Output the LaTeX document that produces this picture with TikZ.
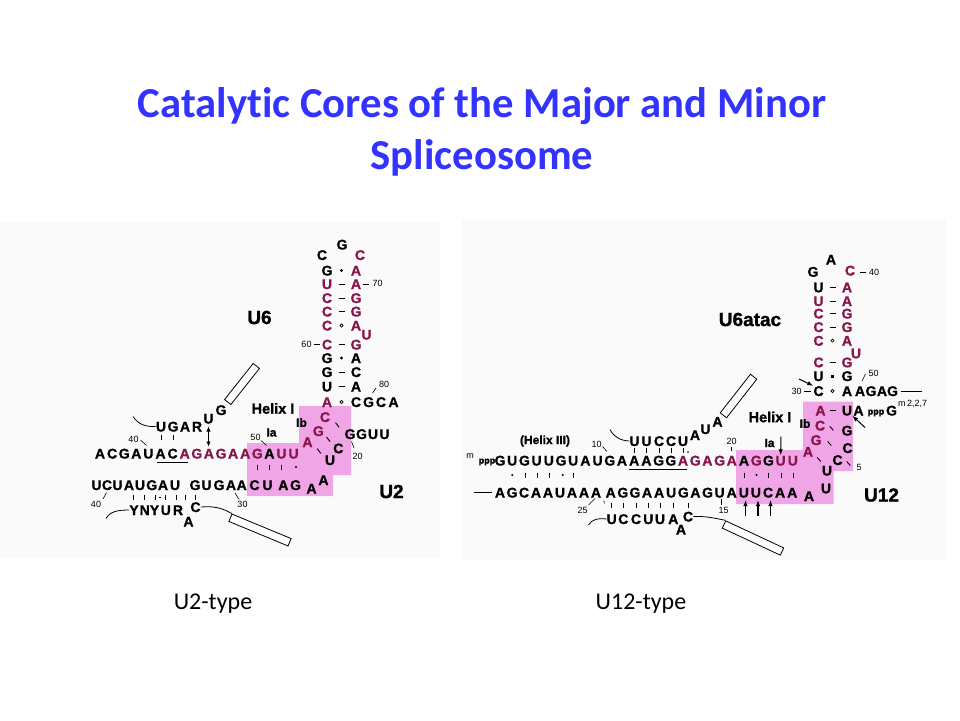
\documentclass[tikz,border=0pt]{standalone}
\usepackage{fontspec}
\setmainfont{Liberation Sans}[BoldFont={Liberation Sans Bold},BoldFeatures={FakeBold=1.2}]
\newfontfamily\calfont{Carlito}[Ligatures=NoCommon]
\usetikzlibrary{arrows.meta}
\definecolor{titleblue}{RGB}{51,51,255}
\definecolor{rnared}{RGB}{135,20,75}
\definecolor{boxpink}{RGB}{240,165,230}

\begin{document}
\begin{tikzpicture}[x=1pt, y=-1pt,
  nt/.style={font=\bfseries\fontsize{14}{14}\selectfont, inner sep=0pt, text height=10pt, text depth=0pt},
  blk/.style={text=black}, mar/.style={text=rnared},
  num/.style={font=\fontsize{9}{9}\selectfont, inner sep=0pt},
  lab/.style={font=\bfseries\fontsize{14.5}{14.5}\selectfont, inner sep=0pt},
  sub/.style={font=\bfseries\fontsize{12}{12}\selectfont, inner sep=0pt},
  rna/.style={font=\bfseries\fontsize{19}{19}\selectfont, inner sep=0pt},
  ttl/.style={font=\calfont\bfseries\fontsize{42.7}{50}\selectfont, text=titleblue, inner sep=0pt},
  captxt/.style={font=\calfont\fontsize{24}{24}\selectfont, inner sep=0pt},
  bar/.style={draw, line width=0.8pt, fill=white, minimum height=8pt, inner sep=0pt},
  pr/.style={line width=0.9pt},
  tick/.style={line width=0.6pt},
  arr/.style={-{Latex[length=6pt,width=4.5pt]}, line width=1pt}]

\useasboundingbox (0,0) rectangle (960,720);
\fill[white] (0,0) rectangle (960,720);
\fill[black!2] (0,222) rectangle (440,558);
\fill[black!2] (462,220) rectangle (946,560);

\node[ttl, anchor=base] (title1) at (482,117) {Catalytic Cores of the Major and Minor};
\node[ttl, anchor=base] (title2) at (482,169) {Spliceosome};

% U2-type
\fill[boxpink] (247,443) -- (299,443) -- (299,406) -- (351,406) -- (351,475) -- (333,475) -- (333,496) -- (247,496) -- cycle;
\node[nt,blk] (u6g) at (342,244.5) {G};
\node[nt,blk] (u6c1) at (322,255) {C};
\node[nt,mar] (u6c2) at (360,255) {C};
\foreach \y/\b/\c [count=\i] in {270.5/G/blk,284/U/mar,298/C/mar,311.5/C/mar,325.5/C/mar,344.5/C/mar,358/G/blk,372/G/blk,386.5/U/blk,402/A/mar}
  \node[nt,\c] (u6l\i) at (327,\y) {\b};
\foreach \y/\b/\c [count=\i] in {270.5/A/mar,284/A/mar,298/G/mar,311.5/G/mar,325.5/A/mar,344.5/G/mar,358/A/blk,372/C/blk,386.5/A/blk,402/C/blk}
  \node[nt,\c] (u6r\i) at (356,\y) {\b};
\node[nt,mar] (u6u) at (366.5,334.5) {U};
\foreach \x/\b [count=\i] in {368.5/G,381/C,393.5/A}
  \node[nt,blk] (u6t\i) at (\x,402) {\b};
\foreach \y in {284,298,311.5,344.5,372,386.5}
  \draw[pr] (338.5,\y) -- (344.5,\y);
\foreach \y in {270.5,358}
  \fill (341.5,\y) circle (1.6);
\foreach \y in {325.5,402}
  \draw[line width=0.6pt] (341.5,\y) circle (1.6);
\draw[pr] (363,284) -- (369,284);
\node[num] (n70) at (377.5,283) {70};
\draw[pr] (313.5,344.5) -- (319.5,344.5);
\node[num] (n60) at (306.5,344.5) {60};
\node[num] (n80) at (384,384.5) {80};
\draw[tick] (372.5,393) -- (376,388);

\node[nt,mar] (u6ib1) at (325,417) {C};
\node[nt,mar] (u6ib2) at (318.3,431) {G};
\node[nt,mar] (u6ib3) at (307.5,442) {A};
\node[nt,blk] (u2ib1) at (338.3,448.3) {C};
\node[nt,blk] (u2ib2) at (330,460) {U};
\foreach \x/\b [count=\i] in {350/G,361.5/G,373/U,384.5/U}
  \node[nt,blk] (u2g\i) at (\x,434) {\b};
\foreach \x/\y in {337.3/425,328.3/439.3,319/451}
  \draw[pr] (\x-1.8,\y-2.3) -- (\x+1.8,\y+2.3);
\node[num] (n20) at (357.5,456.5) {20};
\draw[tick] (351.5,441.5) -- (354,448);
\node[lab] (hxl) at (273,408.5) {Helix I};
\node[sub] (ibl) at (301.5,422.5) {Ib};
\node[sub] (ial) at (271.5,432.5) {Ia};
\node[num] (n50) at (255.5,437) {50};
\draw[tick] (261,440.5) -- (266.5,445.5);

\foreach \b/\c [count=\i] in {A/blk,C/blk,G/blk,A/blk,U/blk,A/blk,C/blk,A/mar,G/mar,A/mar,G/mar,A/mar,A/mar,G/mar,A/blk,U/mar,U/mar}
  \node[nt,\c] (u6m\i) at ({100+(\i-1)*12.1},453.5) {\b};
\draw[line width=1.2pt] (157,462.5) -- (188,462.5);
\foreach \x in {257,269,281.5}
  \draw[pr] (\x,464.5) -- (\x,469.5);
\fill (296,467) circle (1.1);

\foreach \x/\b [count=\i] in {161/U,173/G,185/A,197/R}
  \node[nt,blk] (u6s\i) at (\x,426.5) {\b};
\node[nt,blk] (u6su) at (208.5,418.5) {U};
\node[nt,blk] (u6sg) at (221,410) {G};
\foreach \x in {161,173}
  \draw[pr] (\x,434.5) -- (\x,439.5);
\draw[{Latex[length=5pt,width=4.5pt]}-{Latex[length=5pt,width=4.5pt]}, line width=0.9pt] (208.5,426.5) -- (208.5,446.5);
\node[num] (n40a) at (133.5,439) {40};
\draw[tick] (140.5,440) -- (146.5,445.5);
\draw[line width=0.8pt] (133,416.5) .. controls (138,424) and (145,427) .. (u6s1.west);
\node[bar, minimum width=46pt, rotate=51.6] (u6bar) at (242,384) {};

\foreach \x/\b [count=\i] in {96.5/U,107/C,117.5/U,129/A,140/U,151.7/G,163/A,175/U,195/G,206.5/U,219/G,231/A,241.7/A,254.5/C,267.5/U,283.3/A,295.5/G}
  \node[nt,blk] (u2m\i) at (\x,485) {\b};
\node[nt,blk] (u2a1) at (311.5,488.5) {A};
\node[nt,blk] (u2a2) at (323.5,480) {A};
\foreach \x in {133.5,144.5,155,165.5,176,185.5,195.5}
  \draw[pr] (\x,494.5) -- (\x,499.5);
\draw[pr] (158.5,497) -- (161,497);
\foreach \x/\b [count=\i] in {134/Y,144.7/N,154.5/Y,165.8/U,178/R}
  \node[nt,blk] (u2s\i) at (\x,510) {\b};
\node[nt,blk] (u2sc) at (195.5,507) {C};
\node[nt,blk] (u2sa) at (188.5,521.5) {A};
\draw[line width=0.8pt] (106,518.5) .. controls (110,512) and (116,510) .. (u2s1.west);
\node[num] (n40b) at (96,504) {40};
\draw[tick] (103,499) -- (106.5,492.5);
\node[num] (n30) at (242.5,504) {30};
\draw[tick] (235,493) -- (239,499.5);
\node[bar, minimum width=64pt, rotate=-22.5] (u2bar) at (260,530) {};
\draw[line width=0.8pt] (u2sc.east) .. controls (215,506) and (222,508) .. (u2bar.north west);
\node[rna] (u6lab) at (259.5,317.5) {U6};
\node[rna] (u2lab) at (391.5,491.5) {U2};

% U12-type
\fill[boxpink] (736,450) -- (803,450) -- (803,401.5) -- (853,401.5) -- (853,471) -- (833.5,471) -- (833.5,504) -- (736,504) -- cycle;
\node[nt,blk] (u6aa) at (831,259.5) {A};
\node[nt,blk] (u6ag) at (813,271.7) {G};
\node[nt,mar] (u6ac) at (850,270.5) {C};
\draw[pr] (859.5,272) -- (865.5,272);
\node[num] (n40c) at (874,272) {40};
\foreach \y/\b/\c [count=\i] in {287.3/U/blk,301/U/mar,313.5/C/mar,327/C/mar,340.7/C/mar,362.3/C/mar,376/U/blk,391/C/blk}
  \node[nt,\c] (u6al\i) at (818.5,\y) {\b};
\foreach \y/\b/\c [count=\i] in {287.3/A/mar,301/A/mar,313.5/G/mar,327/G/mar,340.7/A/mar,362.3/G/mar,376/G/blk,391/A/blk}
  \node[nt,\c] (u6ar\i) at (847,\y) {\b};
\node[nt,mar] (u6au) at (856,353.3) {U};
\foreach \y in {287.3,301,313.5,327,362.3}
  \draw[pr] (829.5,\y) -- (835.5,\y);
\foreach \y in {340.7,391}
  \draw[line width=0.6pt] (832.5,\y) circle (1.6);
\fill (831,374.5) rectangle (834,377.5);
\foreach \x/\b [count=\i] in {860/A,871/G,882/A,892.5/G}
  \node[nt,blk] (u6at\i) at (\x,391) {\b};
\draw[line width=0.8pt] (u6at4.east) ++(3,0) -- (922,391);
\node[num] (n30b) at (796.5,391) {30};
\draw[pr] (804,391) -- (811,391);
\node[num] (n50b) at (873.5,373) {50};
\draw[tick] (862,381) -- (865.5,374);
\draw[arr] (799,379) -- (u6al8.north west);

\node[nt,mar] (u6aib1) at (820.5,410.5) {A};
\node[nt,mar] (u6aib2) at (820,425.5) {C};
\node[nt,mar] (u6aib3) at (816,440) {G};
\node[nt,mar] (u6aib4) at (808,451.7) {A};
\draw[pr] (829.5,410.5) -- (835.5,410.5);
\node[nt,blk] (u12ib1) at (847,410.5) {U};
\node[nt,blk] (u12ib2) at (858.5,410.5) {A};
\node[font=\bfseries\fontsize{9}{9}\selectfont, inner sep=0pt, anchor=base] (ppp1) at (876,414.5) {ppp};
\node[nt,blk] (u12cap) at (891.5,410.5) {G};
\node[num, anchor=west] (m227) at (898,403.5) {m\,2,2,7};
\draw[arr] (865,427.5) -- (u12ib1.south east);
\node[nt,blk] (u12ib3) at (847,430.5) {G};
\node[nt,blk] (u12ib4) at (847.5,448) {C};
\node[nt,blk] (u12ib5) at (837.5,460) {C};
\node[nt,blk] (u12ib6) at (827,470.5) {U};
\node[nt,blk] (u12ib7) at (826,488.3) {U};
\node[nt,blk] (u12ib8) at (809,496) {A};
\foreach \x/\y in {831.5/428.3,829.5/443.5,819/459.5,848.5/463.5}
  \draw[pr] (\x-1.8,\y-2) -- (\x+1.8,\y+2);
\node[num] (n5) at (859,467.5) {5};
\node[sub] (ibr) at (805,423.5) {Ib};

\node[num] (msup) at (470,456) {m};
\node[font=\bfseries\fontsize{9}{9}\selectfont, inner sep=0pt, anchor=base] (ppp2) at (487,463.5) {ppp};
\foreach \b/\c [count=\i] in {G/blk,U/blk,G/blk,U/blk,U/blk,G/blk,U/blk,A/blk,U/blk,G/blk,A/blk,A/blk,A/blk,G/blk,G/blk,A/mar,G/mar,A/mar,G/mar,A/mar,A/blk,G/mar,G/blk,U/mar,U/mar}
  \node[nt,\c] (u12m\i) at ({500+(\i-1)*12.2},460.5) {\b};
\draw[line width=1.2pt] (629,469.5) -- (687,469.5);
\foreach \x/\b [count=\i] in {634.5/U,646.5/U,659/C,671/C,683/U}
  \node[nt,blk] (u6as\i) at (\x,441) {\b};
\node[nt,blk] (u6sa1) at (695,435) {A};
\node[nt,blk] (u6sa2) at (705.5,429) {U};
\node[nt,blk] (u6sa3) at (717.5,421.7) {A};
\foreach \x in {634.5,646.5,659,671,683}
  \draw[pr] (\x,448) -- (\x,453);
\fill (688,452) circle (0.8);
\draw[line width=0.8pt] (610,429.5) .. controls (614,437) and (620,440.5) .. (u6as1.west);
\node[num] (n10) at (596.5,444) {10};
\draw[tick] (602.5,446.5) -- (607,451.5);
\node[sub] (hx3) at (545,441) {(Helix III)};
\node[num] (n20b) at (731.5,441) {20};
\draw[tick] (731.5,446.5) -- (731.5,451);
\node[sub] (iar) at (769.5,443) {Ia};
\draw[arr] (781,436.5) -- (u12m24.north);
\node[lab] (hxr) at (770,417) {Helix I};
\node[rna] (u6alab) at (750,319.5) {U6atac};
\node[rna] (u12lab) at (881.5,495) {U12};
\node[bar, minimum width=49pt, rotate=51.9] (u6abar) at (738.5,396) {};

\foreach \x in {525.7,537.3,549.3,573.3,744,768.5,781,793}
  \draw[pr] (\x,472.5) -- (\x,477.5);
\foreach \x in {512.3,562.7,756.5}
  \fill (\x,475) circle (1.1);
\draw[line width=0.8pt] (473.5,492.5) -- (491.5,492.5);
\foreach \b [count=\i] in {A,G,C,A,A,U,A,A,A}
  \node[nt,blk] (u12b\i) at ({500+(\i-1)*12},492.5) {\b};
\foreach \b [count=\i] in {A,G,G,A,A,U,G,A,G,U,A,U,U,C,A,A}
  \node[nt,blk] (u12c\i) at ({610.7+(\i-1)*12.1},492.5) {\b};
\foreach \x in {611.7,623.3,636,648.3,660,673.3,688.3}
  \draw[pr] (\x,502.5) -- (\x,507.5);
\draw[tick] (603.8,500.5) -- (604.4,503.5);
\foreach \x/\b [count=\i] in {611.7/U,623.3/C,636/C,648.3/U,660/U,673.3/A}
  \node[nt,blk] (u12s\i) at (\x,519) {\b};
\node[nt,blk] (u12sc) at (688,516.5) {C};
\node[nt,blk] (u12sa) at (681,529.5) {A};
\draw[line width=0.8pt] (588.5,525) .. controls (592,519) and (598,518) .. (u12s1.west);
\node[num] (n25) at (582.5,510) {25};
\draw[tick] (588.5,505) -- (595,498.5);
\node[num] (n15) at (723.5,510.5) {15};
\draw[tick] (721.7,498.5) -- (721.7,505);
\foreach \x in {745.5,758,770.5}
  \draw[arr, line width=1.1pt] (\x,516) -- (\x,500);
\node[bar, minimum width=64pt, rotate=-25] (u12bar) at (753,538) {};
\draw[line width=0.8pt] (u12sc.east) .. controls (705,516) and (714,518) .. (u12bar.north west);

\node[captxt] (capl) at (213,604) {U2-type};
\node[captxt] (capr) at (641,604) {U12-type};
\end{tikzpicture}
\end{document}
